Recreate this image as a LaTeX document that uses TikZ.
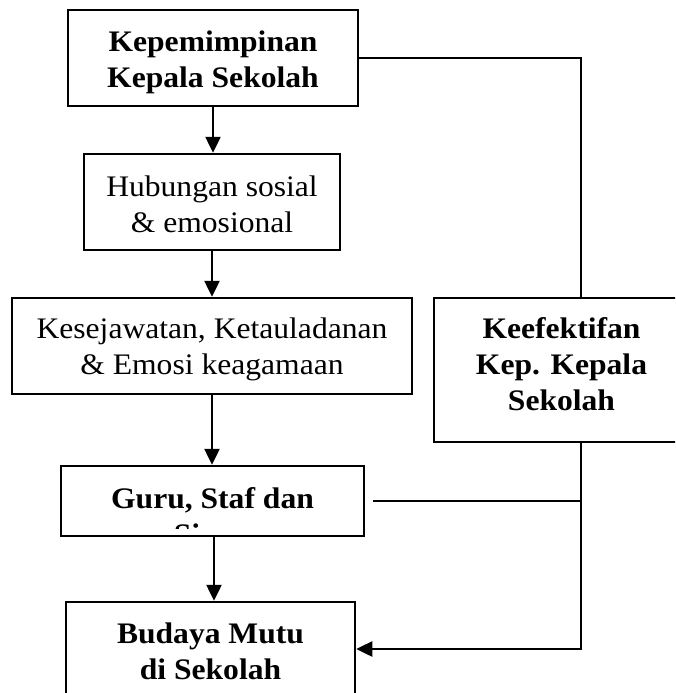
\documentclass[tikz,border=0pt]{standalone}
\usepackage{fontspec}
\setmainfont{Liberation Serif}[FakeStretch=1.06]
\usetikzlibrary{arrows.meta}
\begin{document}
\begin{tikzpicture}[x=1pt,y=-1pt,
  every node/.style={font=\fontsize{29.8}{36}\selectfont, text=black},
  box/.style={draw, line width=2.5pt, rectangle, inner sep=0pt},
  caption/.style={align=center, inner sep=0pt},
  link/.style={line width=2.3pt},
  flow/.style={line width=2.5pt, -{Triangle[width=15pt,length=16pt]}}]
  \useasboundingbox (0,0) rectangle (675,693);
  \clip (0,0) rectangle (675,693);

  % boxes of the main chain
  \node[box, minimum width=290pt, minimum height=96pt] (lead) at (213,58) {};
  \node[caption] (leadText) at (213,62)
    {\bfseries Kepemimpinan\\\bfseries Kepala Sekolah};
  \node[box, minimum width=256pt, minimum height=96pt] (social) at (212,202) {};
  \node[caption] (socialText) at (212,204)
    {Hubungan sosial\\\& emosional};
  \node[box, minimum width=400pt, minimum height=96pt] (collegial) at (212,346) {};
  \node[caption] (collegialText) at (212,349)
    {Kesejawatan, Ketauladanan\\\& Emosi keagamaan};
  \node[box, minimum width=303pt, minimum height=70pt] (staff) at (212.5,501) {};
  \begin{scope}
    \clip (62,467) rectangle (363,528);
    \node[caption] (staffText) at (212.5,516)
      {\bfseries Guru, Staf dan\\\bfseries Siswa};
  \end{scope}
  \node[box, minimum width=289pt, minimum height=96pt] (culture) at (210.5,650) {};
  \node[caption] (cultureText) at (210.5,651)
    {\bfseries Budaya Mutu\\\bfseries di Sekolah};

  % effectiveness box on the right
  \node[box, minimum width=255pt, minimum height=144pt] (effect) at (561.5,370) {};
  \node[caption] (effectText) at (561.5,364)
    {\bfseries Keefektifan\\\bfseries Kep. Kepala\\\bfseries Sekolah};

  % junction points of the right-hand path
  \coordinate (rtop) at (581,58);
  \coordinate (rbot) at (581,649);

  % vertical flow
  \draw[flow] (lead.south) -- (lead.south |- social.north);
  \draw[flow] (social.south) -- (social.south |- collegial.north);
  \draw[flow] (collegial.south) -- (collegial.south |- staff.north);
  \draw[flow] ([xshift=1.5pt]staff.south) -- ([xshift=1.5pt]staff.south |- culture.north);

  % right-hand path
  \draw[link] (lead.east) -- (rtop) -- (rtop |- effect.north);
  \draw[link] ([xshift=8pt]staff.east) -- (rtop |- staff.east);
  \draw[flow] (rtop |- effect.south) -- (rbot) -- (culture.east |- rbot);
\end{tikzpicture}
\end{document}
